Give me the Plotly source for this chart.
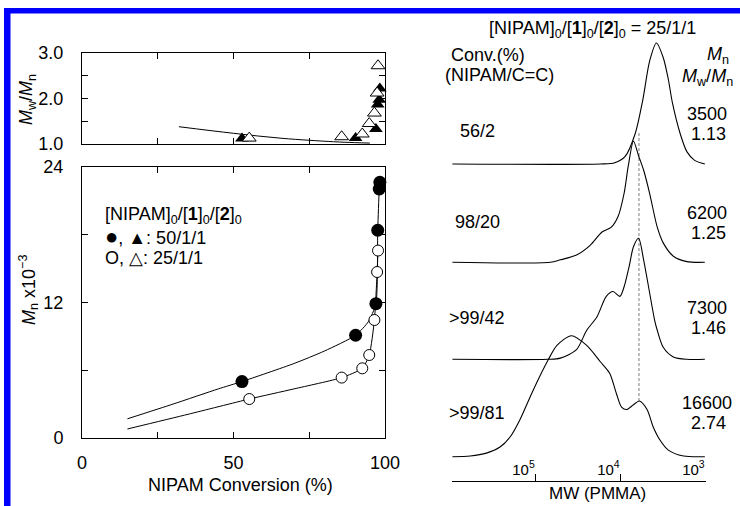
import plotly.graph_objects as go

# ---------------- data: left panels ----------------
conv_50 = [52.8, 90.3, 97.0, 97.6, 98.1, 98.3]
mn_50 = [5.0, 9.1, 11.9, 18.4, 22.05, 22.65]
pdi_50 = [1.12, 1.13, 1.33, 1.87, 1.97, 2.22]

conv_25 = [55.2, 85.7, 92.5, 94.8, 96.5, 97.4, 97.7]
mn_25 = [3.45, 5.35, 6.17, 7.35, 10.45, 14.7, 16.6]
pdi_25 = [1.13, 1.16, 1.22, 1.45, 1.68, 2.12, 2.72]

fit50_conv = [15, 30, 45, 52.8, 70, 80, 90.3, 94.5, 97.0, 97.6, 98.1, 98.4]
fit50_mn = [1.7, 3.0, 4.35, 5.0, 6.6, 7.7, 9.1, 10.3, 11.9, 18.4, 22.0, 23.0]
fit25_conv = [15, 35, 55.2, 70, 85.7, 92.5, 94.8, 96.5, 97.4, 97.7]
fit25_mn = [0.8, 2.1, 3.45, 4.35, 5.35, 6.17, 7.35, 10.45, 14.7, 16.6]
pdifit_conv = [32, 50, 66, 83, 90, 95]
pdifit_val = [1.38, 1.235, 1.125, 1.05, 1.03, 1.02]

# ---------------- data: GPC traces (log10 MW, normalized height) ----------------
gpc1_logmw = [5.98, 4.24, 4.07, 3.95, 3.83, 3.74, 3.66, 3.58, 3.50, 3.44, 3.39, 3.30, 3.22, 3.13, 3.01]
gpc1_h = [0, 0, 0.01, 0.06, 0.25, 0.53, 0.85, 1.0, 0.88, 0.70, 0.50, 0.25, 0.10, 0.03, 0.0]
gpc2_logmw = [5.98, 4.83, 4.71, 4.52, 4.36, 4.22, 4.11, 4.03, 3.96, 3.91, 3.85, 3.79, 3.73,
              3.66, 3.57, 3.50, 3.38, 3.22, 3.01]
gpc2_h = [0, 0, 0.02, 0.06, 0.14, 0.25, 0.29, 0.38, 0.57, 0.80, 1.0, 0.88, 0.76,
          0.57, 0.29, 0.16, 0.05, 0.005, 0]
gpc3_logmw = [5.98, 4.86, 4.71, 4.52, 4.40, 4.28, 4.17, 4.09, 4.01, 3.96, 3.90, 3.85, 3.79,
              3.73, 3.66, 3.60, 3.57, 3.50, 3.38, 3.22, 3.01]
gpc3_h = [0, 0, 0.01, 0.08, 0.24, 0.35, 0.52, 0.56, 0.52, 0.60, 0.77, 0.93, 1.0,
          0.82, 0.55, 0.32, 0.24, 0.10, 0.02, 0, 0]
gpc4_logmw = [5.98, 5.77, 5.58, 5.42, 5.30, 5.19, 5.03, 4.85, 4.75, 4.58, 4.40, 4.24, 4.13,
              4.05, 3.99, 3.93, 3.85, 3.78, 3.69, 3.62, 3.54, 3.44, 3.26, 3.01]
gpc4_h = [0, 0.006, 0.03, 0.08, 0.165, 0.30, 0.55, 0.805, 0.92, 1.0, 0.92, 0.785, 0.69,
          0.52, 0.41, 0.39, 0.43, 0.46, 0.39, 0.25, 0.14, 0.055, 0.006, 0]
peak_ref_logmw = 3.785

conv_labels = ["56/2", "98/20", ">99/42", ">99/81"]
mn_labels = ["3500", "6200", "7300", "16600"]
pdi_labels = ["1.13", "1.25", "1.46", "2.74"]

# ---------------- layout helpers ----------------
W, H = 740, 506
FONT = "Liberation Sans, Arial, Helvetica, sans-serif"


def px(x):
    return x / W


def py(y):
    return 1 - y / H


fig = go.Figure()
BLK = "black"

# top panel (Mw/Mn)
fig.add_trace(go.Scatter(x=pdifit_conv, y=pdifit_val, mode="lines", line=dict(color=BLK, width=1, shape="spline"),
                         xaxis="x", yaxis="y", showlegend=False))
fig.add_trace(go.Scatter(x=conv_50, y=pdi_50, mode="markers", cliponaxis=False,
                         marker=dict(symbol="triangle-up", size=12, color=BLK, line=dict(width=0)),
                         xaxis="x", yaxis="y", showlegend=False))
fig.add_trace(go.Scatter(x=conv_25, y=pdi_25, mode="markers", cliponaxis=False,
                         marker=dict(symbol="triangle-up", size=12, color="white", line=dict(width=1, color=BLK)),
                         xaxis="x", yaxis="y", showlegend=False))

# lower panel (Mn)
fig.add_trace(go.Scatter(x=fit50_conv, y=fit50_mn, mode="lines", line=dict(color=BLK, width=1, shape="spline", smoothing=0.6),
                         xaxis="x2", yaxis="y2", showlegend=False))
fig.add_trace(go.Scatter(x=fit25_conv, y=fit25_mn, mode="lines", line=dict(color=BLK, width=1, shape="spline", smoothing=0.6),
                         xaxis="x2", yaxis="y2", showlegend=False))
fig.add_trace(go.Scatter(x=conv_25, y=mn_25, mode="markers", cliponaxis=False,
                         marker=dict(symbol="circle", size=11, color="white", line=dict(width=1, color=BLK)),
                         xaxis="x2", yaxis="y2", showlegend=False))
fig.add_trace(go.Scatter(x=conv_50, y=mn_50, mode="markers", cliponaxis=False,
                         marker=dict(symbol="circle", size=13, color=BLK, line=dict(width=0)),
                         xaxis="x2", yaxis="y2", showlegend=False))

# GPC panel
offsets = [2.419, 1.607, 0.805, 0.0]
gpcs = [(gpc1_logmw, gpc1_h), (gpc2_logmw, gpc2_h), (gpc3_logmw, gpc3_h), (gpc4_logmw, gpc4_h)]
fig.add_trace(go.Scatter(x=[10 ** peak_ref_logmw] * 2, y=[0.46, 2.675], mode="lines",
                         line=dict(color="#555", width=0.8, dash="3px,2px"),
                         xaxis="x3", yaxis="y3", showlegend=False))
for (lx, hh), off in zip(gpcs, offsets):
    fig.add_trace(go.Scatter(x=[10 ** v for v in lx], y=[off + v for v in hh], mode="lines",
                             line=dict(color=BLK, width=1.1, shape="spline", smoothing=0.8),
                             xaxis="x3", yaxis="y3", showlegend=False))

xdom = [px(82), px(385)]
axis_common = dict(showline=True, linecolor=BLK, linewidth=1, mirror="allticks", ticks="inside",
                   ticklen=6, tickcolor=BLK, showgrid=False, zeroline=False, automargin=False,
                   tickfont=dict(family=FONT, size=18, color=BLK))

fig.update_layout(
    width=W, height=H, margin=dict(l=0, r=0, t=0, b=0, pad=0, autoexpand=False),
    paper_bgcolor="white", plot_bgcolor="rgba(0,0,0,0)",
    font=dict(family=FONT, color=BLK),
    xaxis=dict(domain=xdom, anchor="y", range=[0, 100], tickvals=[0, 25, 50, 75, 100],
               showticklabels=False, **axis_common),
    yaxis=dict(domain=[py(144), py(53)], anchor="x", range=[1, 3], tickvals=[1, 1.5, 2, 2.5, 3],
               ticktext=["1.0", "", "2.0", "", "3.0"], ticklabelstandoff=14, **axis_common),
    xaxis2=dict(domain=xdom, anchor="y2", range=[0, 100], tickvals=[0, 25, 50, 75, 100],
                ticktext=["0", "", "50", "", "100"], ticklabelstandoff=8, **axis_common),
    yaxis2=dict(domain=[py(438), py(167)], anchor="x2", range=[0, 24], tickvals=[0, 6, 12, 18, 24],
                ticktext=["0", "", "12", "", "24"], ticklabelstandoff=14, **axis_common),
    xaxis3=dict(domain=[px(452), px(705.7)], anchor="y3", type="log", range=[5.985, 3.0],
                tickvals=[1e5, 1e4, 1e3], ticktext=["10<sup>5</sup>", "10<sup>4</sup>", "10<sup>3</sup>"],
                showline=True, linecolor=BLK, linewidth=1, ticks="inside", ticklen=7, tickcolor=BLK,
                ticklabelposition="inside left", showgrid=False, zeroline=False, automargin=False,
                tickfont=dict(family=FONT, size=15, color=BLK)),
    yaxis3=dict(domain=[py(480.7), py(30)], anchor="x3", range=[-0.198, 3.526], visible=False),
)

shapes = [
    dict(type="rect", xref="paper", yref="paper", x0=px(4), x1=1.0, y0=py(13.5), y1=py(8),
         fillcolor="#0000ff", line=dict(width=0)),
    dict(type="rect", xref="paper", yref="paper", x0=px(4), x1=px(10.5), y0=0, y1=py(8),
         fillcolor="#0000ff", line=dict(width=0)),
]
fig.update_layout(shapes=shapes)

ann = []


def text(x, y, s, size=18, xanchor="center", angle=0):
    ann.append(dict(x=px(x), y=py(y), xref="paper", yref="paper", text=s, showarrow=False,
                    xanchor=xanchor, yanchor="middle", textangle=angle,
                    font=dict(family=FONT, size=size, color=BLK)))


# left titles
text(28, 100, "<i>M</i><sub>w</sub>/<i>M</i><sub>n</sub>", angle=-90)
text(28, 290, "<i>M</i><sub>n</sub> x10<sup>−3</sup>", angle=-90)
text(240, 485, "NIPAM Conversion (%)")
# legend text in lower panel
text(103, 215, "[NIPAM]<sub>0</sub>/[<b>1</b>]<sub>0</sub>/[<b>2</b>]<sub>0</sub>", xanchor="left")
text(103, 237, "<span style='font-size:22px'>●</span>, ▲: 50/1/1", xanchor="left")
text(103, 258, "O, △: 25/1/1", xanchor="left")

# right panel texts
text(592, 30, "[NIPAM]<sub>0</sub>/[<b>1</b>]<sub>0</sub>/[<b>2</b>]<sub>0</sub> = 25/1/1")
text(488, 55, "Conv.(%)")
text(499, 75, "(NIPAM/C=C)")
text(718, 55, "<i>M</i><sub>n</sub>")
text(707, 77, "<i>M</i><sub>w</sub>/<i>M</i><sub>n</sub>")
conv_y = [131, 222, 318, 413]
mn_y = [114, 213, 308, 403]
for s, yy in zip(conv_labels, conv_y):
    text(477, yy, s)
for s1, s2, yy in zip(mn_labels, pdi_labels, mn_y):
    text(707, yy, s1)
    text(708, yy + 20, s2)
text(597, 493, "MW (PMMA)", size=17)

fig.update_layout(annotations=ann)
fig.write_html("out.html")
